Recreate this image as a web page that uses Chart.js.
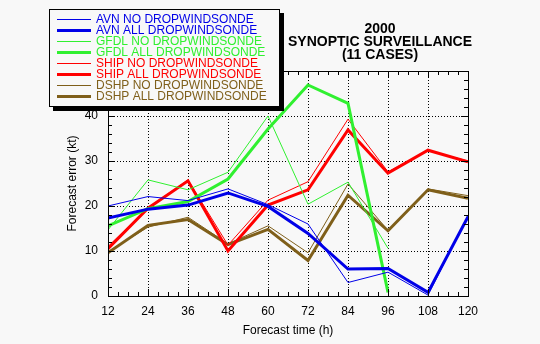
<!DOCTYPE html>
<html>
<head>
<meta charset="utf-8">
<script src="https://cdn.jsdelivr.net/npm/chart.js@4.4.1/dist/chart.umd.min.js"></script>
<style>
  html, body { margin: 0; padding: 0; background: #f8f8f8; }
  canvas { display: block; }
</style>
</head>
<body>
<canvas id="myChart" width="540" height="344"></canvas>
<script>
// Forecast hours (x axis)
const hours = [12, 24, 36, 48, 60, 72, 84, 96, 108, 120];

// Mean forecast errors (kt) for each model, without / with dropwindsonde data
const avnNo   = [20.0, 22.1, 21.2, 23.8, 20.3, 16.0, 3.0, 5.3, 0.2, 17.8];
const avnAll  = [17.3, 19.3, 20.2, 22.9, 19.9, 13.9, 6.0, 6.1, 0.8, 17.6];
const gfdlNo  = [14.7, 25.8, 23.6, 27.5, 40.0, 20.4, 25.3, 10.6, null, null];
const gfdlAll = [15.6, 19.4, 21.0, 26.0, 37.1, 46.9, 42.8, 0.8, null, null];
const shipNo  = [11.0, 19.6, 25.8, 11.3, 21.3, 25.4, 39.3, 27.6, 32.3, 30.0];
const shipAll = [10.5, 19.5, 25.6, 10.0, 20.2, 23.6, 36.9, 27.3, 32.4, 29.8];
const dshpNo  = [9.8, 15.3, 17.5, 11.6, 15.6, 9.6, 24.9, 14.6, 23.8, 22.3];
const dshpAll = [9.6, 15.7, 17.0, 11.4, 14.8, 7.9, 22.4, 14.5, 23.6, 21.7];

const titleLines = ["2000", "SYNOPTIC SURVEILLANCE", "(11 CASES)"];

const BLUE = '#0000e8';
const GREEN = '#30f030';
const RED = '#ff0000';
const BROWN = '#7f5f1a';
const BG = '#f8f8f8';
const FONT = '"Liberation Sans", Arial, sans-serif';

function makeSeries(label, values, color, width) {
    return {
        label: label,
        data: hours.map((h, i) => ({ x: h, y: values[i] })),
        borderColor: color,
        backgroundColor: color,
        borderWidth: width,
        pointRadius: 0,
        tension: 0,
        fill: false
    };
}

// Box frame with inward ticks on all four sides
const framePlugin = {
    id: 'frame',
    afterDatasetsDraw(chart) {
        const { ctx, chartArea: a, scales: { x, y } } = chart;
        ctx.save();
        ctx.strokeStyle = '#000';
        ctx.lineWidth = 1;
        ctx.strokeRect(a.left + 0.5, a.top + 0.5, a.right - a.left, a.bottom - a.top);
        ctx.beginPath();
        for (let h = 12; h <= 120; h += 3) {
            const px = Math.round(x.getPixelForValue(h)) + 0.5;
            const len = (h - 12) % 12 === 0 ? 7 : 4;
            ctx.moveTo(px, a.bottom);
            ctx.lineTo(px, a.bottom - len);
            ctx.moveTo(px, a.top);
            ctx.lineTo(px, a.top + len);
        }
        for (let v = 0; v <= 50; v += 2) {
            const py = Math.round(y.getPixelForValue(v)) + 0.5;
            const len = v % 10 === 0 ? 7 : 4;
            ctx.moveTo(a.left, py);
            ctx.lineTo(a.left + len, py);
            ctx.moveTo(a.right, py);
            ctx.lineTo(a.right - len, py);
        }
        ctx.stroke();
        ctx.restore();
    }
};

// Title block and boxed legend with drop shadow
const legendPlugin = {
    id: 'boxLegend',
    afterDraw(chart) {
        const ctx = chart.ctx;
        ctx.save();

        ctx.fillStyle = '#000';
        ctx.font = 'bold 14px ' + FONT;
        ctx.textAlign = 'center';
        ctx.textBaseline = 'middle';
        titleLines.forEach((t, i) => ctx.fillText(t, 380, 29 + i * 13.2));

        ctx.fillStyle = '#000';
        ctx.fillRect(53, 13, 231, 98);
        ctx.fillStyle = BG;
        ctx.fillRect(49, 9, 231, 98);
        ctx.strokeStyle = '#000';
        ctx.lineWidth = 1;
        ctx.strokeRect(49.5, 9.5, 230, 97);

        ctx.font = '12px ' + FONT;
        ctx.textAlign = 'left';
        chart.data.datasets.forEach((ds, i) => {
            const yy = Math.round(18.5 + i * 11);
            ctx.strokeStyle = ds.borderColor;
            ctx.lineWidth = ds.borderWidth;
            ctx.beginPath();
            ctx.moveTo(57, yy + 0.5);
            ctx.lineTo(91, yy + 0.5);
            ctx.stroke();
            ctx.fillStyle = ds.borderColor;
            ctx.fillText(ds.label, 96, yy + 1);
        });
        ctx.restore();
    }
};

const ctx = document.getElementById("myChart").getContext("2d");

new Chart(ctx, {
    type: "line",
    data: {
        datasets: [
            makeSeries("AVN NO DROPWINDSONDE", avnNo, BLUE, 1),
            makeSeries("AVN ALL DROPWINDSONDE", avnAll, BLUE, 3),
            makeSeries("GFDL NO DROPWINDSONDE", gfdlNo, GREEN, 1),
            makeSeries("GFDL ALL DROPWINDSONDE", gfdlAll, GREEN, 3),
            makeSeries("SHIP NO DROPWINDSONDE", shipNo, RED, 1),
            makeSeries("SHIP ALL DROPWINDSONDE", shipAll, RED, 3),
            makeSeries("DSHP NO DROPWINDSONDE", dshpNo, BROWN, 1),
            makeSeries("DSHP ALL DROPWINDSONDE", dshpAll, BROWN, 3)
        ]
    },
    options: {
        responsive: false,
        animation: false,
        devicePixelRatio: 1,
        layout: { padding: { left: 0, top: 71, right: 72, bottom: 0 } },
        scales: {
            x: {
                type: 'linear',
                min: 12,
                max: 120,
                afterFit: (scale) => { scale.height = 48; },
                ticks: { stepSize: 12, color: '#000', padding: 8, font: { family: FONT, size: 12 } },
                grid: { color: '#000', lineWidth: 1, drawTicks: false },
                border: { display: false, dash: [1, 2] },
                title: {
                    display: true,
                    text: 'Forecast time (h)',
                    color: '#000',
                    font: { family: FONT, size: 12 },
                    padding: { top: 0, bottom: 6 }
                }
            },
            y: {
                min: 0,
                max: 50,
                afterFit: (scale) => { scale.width = 108; },
                ticks: { stepSize: 10, color: '#000', padding: 10, font: { family: FONT, size: 12 } },
                grid: { color: '#000', lineWidth: 1, drawTicks: false },
                border: { display: false, dash: [1, 2] },
                title: {
                    display: true,
                    text: 'Forecast error (kt)',
                    color: '#000',
                    font: { family: FONT, size: 12 },
                    padding: { top: 65, bottom: 0 }
                }
            }
        },
        plugins: {
            legend: { display: false },
            title: { display: false },
            tooltip: { enabled: false }
        }
    },
    plugins: [framePlugin, legendPlugin]
});
</script>
</body>
</html>
